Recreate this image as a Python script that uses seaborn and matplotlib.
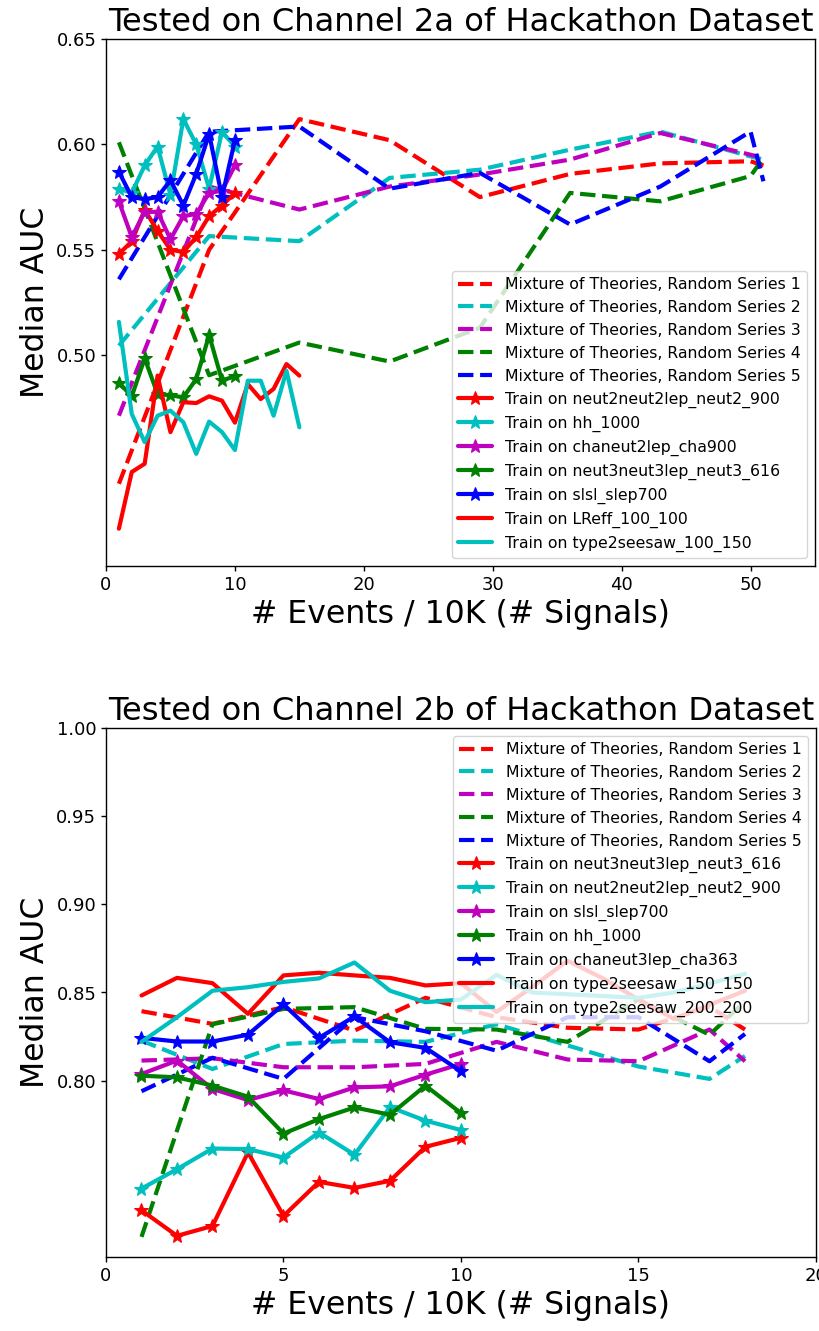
import matplotlib
matplotlib.use("Agg")
import matplotlib.pyplot as plt
import seaborn as sns

sns.set_style("ticks")
plt.rcParams["font.family"] = ["DejaVu Sans"]
plt.rcParams.update({
    "text.color": "black",
    "axes.labelcolor": "black",
    "axes.edgecolor": "black",
    "xtick.color": "black",
    "ytick.color": "black",
    "axes.linewidth": 1.0,
})

# ---------------- Channel 2a ----------------
a_x_single = [1, 2, 3, 4, 5, 6, 7, 8, 9, 10]
a_x_long = list(range(1, 16))
a_x_mix = [1, 8, 15, 22, 29, 36, 43, 50, 51]

a_mix1 = [0.439, 0.550, 0.612, 0.602, 0.575, 0.586, 0.591, 0.592, 0.590]
a_mix2 = [0.5045, 0.5565, 0.5541, 0.5841, 0.588, 0.5975, 0.6061, 0.5943, 0.5928]
a_mix3 = [0.4713, 0.580, 0.5691, 0.580, 0.5857, 0.5928, 0.6054, 0.5951, 0.5936]
a_mix4 = [0.601, 0.4905, 0.506, 0.497, 0.513, 0.577, 0.573, 0.585, 0.5936]
a_mix5 = [0.536, 0.606, 0.6085, 0.579, 0.5865, 0.562, 0.580, 0.6061, 0.5825]

a_neut2 = [0.548, 0.554, 0.569, 0.559, 0.550, 0.549, 0.556, 0.566, 0.571, 0.577]
a_hh = [0.579, 0.577, 0.590, 0.599, 0.576, 0.612, 0.600, 0.579, 0.606, 0.599]
a_cha = [0.573, 0.556, 0.568, 0.568, 0.555, 0.566, 0.567, 0.577, 0.578, 0.590]
a_neut3 = [0.487, 0.4805, 0.4985, 0.4816, 0.481, 0.480, 0.4887, 0.5095, 0.488, 0.490]
a_slsl = [0.587, 0.575, 0.574, 0.575, 0.583, 0.571, 0.586, 0.605, 0.575, 0.602]
a_lreff = [0.4177, 0.4446, 0.4485, 0.4903, 0.4635, 0.4777, 0.4773, 0.4805, 0.4784,
           0.468, 0.4863, 0.4792, 0.484, 0.4958, 0.4903]
a_seesaw = [0.5158, 0.4721, 0.4588, 0.4713, 0.4737, 0.4682, 0.4532, 0.4685, 0.4635,
            0.4550, 0.4879, 0.4879, 0.4713, 0.4926, 0.4658]

# ---------------- Channel 2b ----------------
b_x_single = [1, 2, 3, 4, 5, 6, 7, 8, 9, 10]
b_x_long = list(range(1, 19))
b_x_mix = [1, 3, 5, 7, 9, 11, 13, 15, 17, 18]

b_mix1 = [0.8394, 0.8322, 0.8417, 0.8284, 0.847, 0.836, 0.830, 0.829, 0.842, 0.829]
b_mix2 = [0.8227, 0.8066, 0.8208, 0.8227, 0.822, 0.832, 0.820, 0.808, 0.801, 0.814]
b_mix3 = [0.8114, 0.8127, 0.8076, 0.8076, 0.8095, 0.822, 0.812, 0.811, 0.829, 0.811]
b_mix4 = [0.7114, 0.832, 0.8407, 0.8417, 0.8294, 0.829, 0.822, 0.846, 0.826, 0.845]
b_mix5 = [0.794, 0.813, 0.801, 0.836, 0.828, 0.817, 0.836, 0.836, 0.811, 0.8265]

b_neut3 = [0.7265, 0.712, 0.7176, 0.7593, 0.7233, 0.7426, 0.7392, 0.7432, 0.7625, 0.7676]
b_neut2 = [0.7388, 0.7498, 0.7615, 0.7612, 0.7564, 0.7706, 0.758, 0.785, 0.7773, 0.772]
b_slsl = [0.8038, 0.8114, 0.7953, 0.789, 0.7945, 0.7896, 0.7962, 0.7968, 0.8034, 0.8095]
b_hh = [0.8028, 0.8019, 0.7972, 0.7909, 0.770, 0.7782, 0.7848, 0.7807, 0.7972, 0.7816]
b_cha = [0.8243, 0.8222, 0.8222, 0.8261, 0.8433, 0.8243, 0.8364, 0.8218, 0.8186, 0.8053]
b_seesaw150 = [0.8483, 0.8583, 0.8553, 0.8379, 0.8597, 0.8612, 0.8597, 0.8583, 0.854,
               0.8553, 0.839, 0.853, 0.868, 0.858, 0.846, 0.835, 0.843, 0.851]
b_seesaw200 = [0.822, 0.836, 0.851, 0.853, 0.856, 0.858, 0.867, 0.851, 0.8445,
               0.846, 0.860, 0.850, 0.849, 0.848, 0.847, 0.850, 0.855, 0.8606]

mix_colors = ["r", "c", "m", "g", "b"]

LW = 3
MS = 10
TITLE_FS = 23.1
LABEL_FS = 22.7
TICK_FS = 13
LEGEND_FS = 11.3


def draw_panel(ax, x_mix, mixes, singles, longs, title):
    for i, (vals, col) in enumerate(zip(mixes, mix_colors)):
        sns.lineplot(x=x_mix, y=vals, ax=ax, color=col, linestyle="--", lw=LW,
                     label=f"Mixture of Theories, Random Series {i + 1}")
    for xs, vals, col, name in singles:
        sns.lineplot(x=xs, y=vals, ax=ax, color=col, lw=LW, marker="*",
                     markersize=MS, markeredgecolor=col, label=f"Train on {name}")
    for xs, vals, col, name in longs:
        sns.lineplot(x=xs, y=vals, ax=ax, color=col, lw=LW,
                     label=f"Train on {name}")
    ax.set_title(title, fontsize=TITLE_FS)
    ax.set_xlabel("# Events / 10K (# Signals)", fontsize=LABEL_FS)
    ax.set_ylabel("Median AUC", fontsize=LABEL_FS)
    ax.tick_params(labelsize=TICK_FS, color="black", width=1.0)


fig = plt.figure(figsize=(8.2, 13.31), dpi=100)
ax1 = fig.add_axes([106 / 820, 1 - 566 / 1331, 709 / 820, 527 / 1331])
ax2 = fig.add_axes([106 / 820, 1 - 1257 / 1331, 710 / 820, 529 / 1331])

draw_panel(
    ax1, a_x_mix, [a_mix1, a_mix2, a_mix3, a_mix4, a_mix5],
    [(a_x_single, a_neut2, "r", "neut2neut2lep_neut2_900"),
     (a_x_single, a_hh, "c", "hh_1000"),
     (a_x_single, a_cha, "m", "chaneut2lep_cha900"),
     (a_x_single, a_neut3, "g", "neut3neut3lep_neut3_616"),
     (a_x_single, a_slsl, "b", "slsl_slep700")],
    [(a_x_long, a_lreff, "r", "LReff_100_100"),
     (a_x_long, a_seesaw, "c", "type2seesaw_100_150")],
    "Tested on Channel 2a of Hackathon Dataset")
ax1.set_xlim(0, 55)
ax1.set_ylim(0.40, 0.65)
ax1.set_xticks([0, 10, 20, 30, 40, 50])
ax1.set_yticks([0.50, 0.55, 0.60, 0.65])
ax1.legend(loc="lower right", fontsize=LEGEND_FS, handlelength=2.2)

draw_panel(
    ax2, b_x_mix, [b_mix1, b_mix2, b_mix3, b_mix4, b_mix5],
    [(b_x_single, b_neut3, "r", "neut3neut3lep_neut3_616"),
     (b_x_single, b_neut2, "c", "neut2neut2lep_neut2_900"),
     (b_x_single, b_slsl, "m", "slsl_slep700"),
     (b_x_single, b_hh, "g", "hh_1000"),
     (b_x_single, b_cha, "b", "chaneut3lep_cha363")],
    [(b_x_long, b_seesaw150, "r", "type2seesaw_150_150"),
     (b_x_long, b_seesaw200, "c", "type2seesaw_200_200")],
    "Tested on Channel 2b of Hackathon Dataset")
ax2.set_xlim(0, 20)
ax2.set_ylim(0.70, 1.00)
ax2.set_xticks([0, 5, 10, 15, 20])
ax2.set_yticks([0.80, 0.85, 0.90, 0.95, 1.00])
ax2.legend(loc="upper right", fontsize=LEGEND_FS, handlelength=2.2)

fig.savefig("out.png", dpi=100)
